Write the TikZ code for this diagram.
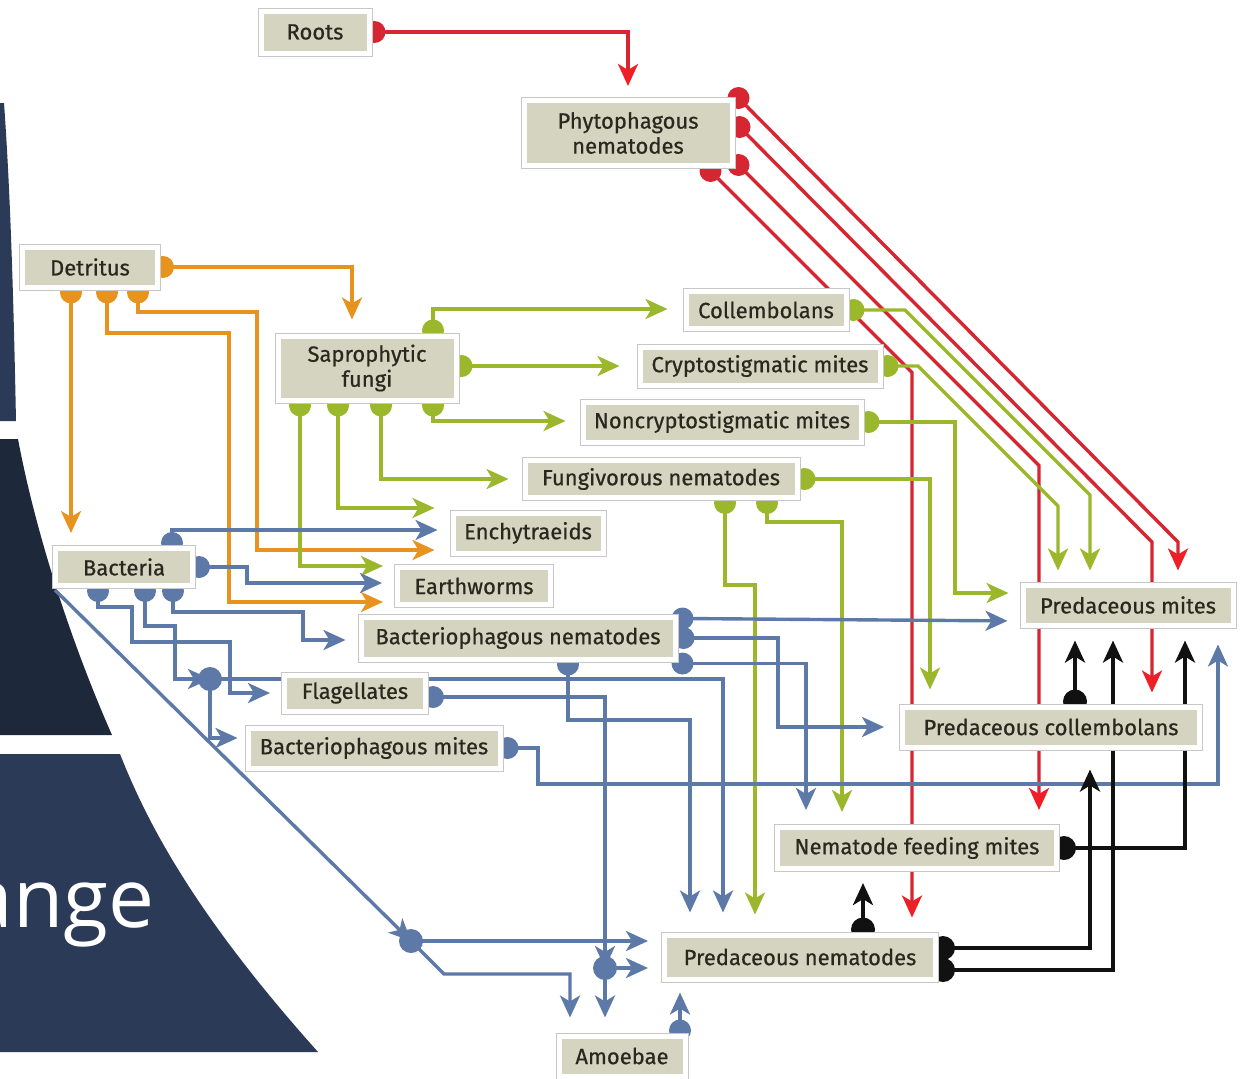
\documentclass[tikz,border=0pt]{standalone}
\usepackage{fontspec}
\usetikzlibrary{arrows.meta}
\newfontfamily\boxfont[FakeBold=0.6]{Fira Sans}
\newfontfamily\slidefont{Open Sans}
\definecolor{navyA}{HTML}{2B3A56}
\definecolor{navyB}{HTML}{1D283B}
\definecolor{boxfill}{HTML}{D5D4C0}
\definecolor{txt}{HTML}{2A281E}
\definecolor{cred}{HTML}{D62631}
\definecolor{credtip}{HTML}{EE1F27}
\definecolor{corange}{HTML}{E8931E}
\definecolor{cgreen}{HTML}{9BB82C}
\definecolor{cblue}{HTML}{5C79A8}
\definecolor{cblack}{HTML}{111111}
\pgfdeclarelayer{bg}
\pgfdeclarelayer{links}
\pgfsetlayers{bg,links,main}
\tikzset{
  box/.style={rectangle, fill=boxfill, draw=white, line width=5pt,
    preaction={draw=black!22, line width=7pt}, inner sep=0pt,
    text=txt, align=center, font=\boxfont\fontsize{22}{25}\selectfont},
  link/.style={line width=3.4pt, -{Stealth[length=22pt,width=20pt,inset=6pt]}},
  lred/.style={link, draw=cred, -{Stealth[length=22pt,width=20pt,inset=6pt,color=credtip]}},
  lorange/.style={link, draw=corange},
  lgreen/.style={link, draw=cgreen},
  lblue/.style={link, draw=cblue},
  lblack/.style={link, line width=4pt, draw=cblack},
}
\begin{document}
\begin{tikzpicture}[x=1pt,y=-1pt]
\useasboundingbox (0,0) rectangle (1243,1079);
% ---------- nodes ----------
\node[box, minimum width=108pt, minimum height=42pt] (roots) at (315,32) {Roots};
\node[box, minimum width=208pt, minimum height=65pt] (phyto) at (628,133) {Phytophagous\\nematodes};
\node[box, minimum width=135pt, minimum height=40pt] (detritus) at (90,267) {Detritus};
\node[box, minimum width=178pt, minimum height=64pt] (sapro) at (367,368) {Saprophytic\\fungi};
\node[box, minimum width=160pt, minimum height=37pt] (collem) at (766,310) {Collembolans};
\node[box, minimum width=240pt, minimum height=38pt] (crypto) at (760,366) {Cryptostigmatic mites};
\node[box, minimum width=278pt, minimum height=40pt] (noncrypto) at (722,422) {Noncryptostigmatic mites};
\node[box, minimum width=272pt, minimum height=37pt] (fungiv) at (661,479) {Fungivorous nematodes};
\node[box, minimum width=150pt, minimum height=40pt] (enchy) at (528,533) {Enchytraeids};
\node[box, minimum width=137pt, minimum height=37pt] (bact) at (124,567) {Bacteria};
\node[box, minimum width=153pt, minimum height=37pt] (earth) at (474,586) {Earthworms};
\node[box, minimum width=314pt, minimum height=42pt] (bnem) at (518,638) {Bacteriophagous nematodes};
\node[box, minimum width=141pt, minimum height=36pt] (flag) at (355,693) {Flagellates};
\node[box, minimum width=252pt, minimum height=40pt] (bmites) at (374,748) {Bacteriophagous mites};
\node[box, minimum width=210pt, minimum height=40pt] (pmites) at (1128,605) {Predaceous mites};
\node[box, minimum width=297pt, minimum height=40pt] (pcoll) at (1051,727) {Predaceous collembolans};
\node[box, minimum width=279pt, minimum height=41pt] (nfm) at (917,848) {Nematode feeding mites};
\node[box, minimum width=271pt, minimum height=44pt] (pnem) at (800,957) {Predaceous nematodes};
\node[box, minimum width=126pt, minimum height=40pt] (amoeb) at (622,1056) {Amoebae};

% ---------- background slide shapes ----------
\begin{pgfonlayer}{bg}
\fill[white] (0,0) rectangle (1243,1079);
\fill[navyA] (-5,103) -- (4,103) .. controls (11,200) and (14,320) .. (16,421) -- (-5,421) -- cycle;
\fill[navyB] (-5,439) -- (18,439) .. controls (35,530) and (70,640) .. (112,735) -- (-5,735) -- cycle;
\fill[navyA] (-5,754) -- (120,754) .. controls (150,830) and (200,920) .. (318,1052) -- (-5,1052) -- cycle;
\node[anchor=base east, inner sep=0pt, text=white, font=\slidefont\fontsize{82}{96}\selectfont] (slidetext) at (155,927) {ange};
\end{pgfonlayer}

% ---------- connectors ----------
\begin{pgfonlayer}{links}
% red
\coordinate (r0) at ([xshift=3pt]roots.east);
\coordinate (r1) at ([xshift=4pt]phyto.north east);
\coordinate (r2) at ([xshift=5pt,yshift=6pt]phyto.east);
\coordinate (r3) at ([xshift=4pt,yshift=3pt]phyto.south east);
\coordinate (r4) at ([xshift=-24pt,yshift=-3pt]phyto.south east);
\draw[lred, shorten >=12pt] (r0) -| (phyto.north);
\draw[lred, shorten >=12pt] (r1) -- (1178,542) -- ([xshift=50pt]pmites.north);
\draw[lred, shorten >=12pt] (r2) -- (1152,542) -- ([xshift=101pt]pcoll.north);
\draw[lred, shorten >=15pt] (r3) -- (1039,465.5) -- ([xshift=122pt]nfm.north);
\draw[lred, shorten >=15pt] (r4) -- (912,372.5) -- ([xshift=112pt]pnem.north);
\foreach \p in {r0,r1,r2,r3,r4} \fill[cred] (\p) circle[radius=11];
% orange
\coordinate (o0) at ([xshift=3pt]detritus.east);
\coordinate (o1) at ([xshift=-19pt,yshift=-3pt]detritus.south);
\coordinate (o2) at ([xshift=48pt,yshift=-3pt]detritus.south);
\coordinate (o3) at ([xshift=17pt,yshift=-3pt]detritus.south);
\draw[lorange, shorten >=14pt] (o0) -| ([xshift=-15pt]sapro.north);
\draw[lorange, shorten >=13pt] (o1) -- ([xshift=-53pt]bact.north);
\draw[lorange, shorten >=16pt] (o2) |- (257,312) |- ([yshift=-17pt]enchy.west);
\draw[lorange, shorten >=12pt] (o3) |- (229,333) |- ([yshift=-16pt]earth.west);
\foreach \p in {o0,o1,o2,o3} \fill[corange] (\p) circle[radius=11];
% green
\coordinate (g1) at ([xshift=66pt,yshift=3pt]sapro.north);
\coordinate (g2) at ([xshift=3pt,yshift=2pt]sapro.east);
\coordinate (g3) at ([xshift=66pt,yshift=-3pt]sapro.south);
\coordinate (g4) at ([xshift=14pt,yshift=-3pt]sapro.south);
\coordinate (g5) at ([xshift=-29pt,yshift=-3pt]sapro.south);
\coordinate (g6) at ([xshift=-67pt,yshift=-3pt]sapro.south);
\coordinate (g7) at ([xshift=5pt]collem.east);
\coordinate (g8) at ([xshift=5pt]crypto.east);
\coordinate (g9) at ([xshift=5pt]noncrypto.east);
\coordinate (g10) at ([xshift=5pt]fungiv.east);
\coordinate (g11) at ([xshift=64pt,yshift=-3pt]fungiv.south);
\coordinate (g12) at ([xshift=106pt,yshift=-3pt]fungiv.south);
\draw[lgreen, shorten >=16pt] (g1) |- ([yshift=1pt]collem.west);
\draw[lgreen, shorten >=18pt] (g2) -- (crypto.west);
\draw[lgreen, shorten >=15pt] (g3) |- ([yshift=1pt]noncrypto.west);
\draw[lgreen, shorten >=14pt] (g4) |- (fungiv.west);
\draw[lgreen, shorten >=16pt] (g5) |- ([yshift=25pt]enchy.west);
\draw[lgreen, shorten >=12pt] (g6) |- ([yshift=20pt]earth.west);
\draw[lgreen, shorten >=12pt] (g7) -- (905,310) -- (1090,495) -- ([xshift=-38pt]pmites.north);
\draw[lgreen, shorten >=12pt] (g8) -- (918,366) -- (1058,506) -- ([xshift=-70pt]pmites.north);
\draw[lgreen, shorten >=12pt] (g9) -- (955,422) |- ([yshift=12pt]pmites.west);
\draw[lgreen, shorten >=15pt] (g10) -| ([xshift=-121pt]pcoll.north);
\draw[lgreen, shorten >=18pt] (g11) |- (755,585) -- ([xshift=-45pt]pnem.north);
\draw[lgreen, shorten >=13pt] (g12) |- (842,522) -- ([xshift=-75pt]nfm.north);
\foreach \p in {g1,g2,g3,g4,g5,g6,g7,g8,g9,g10,g11,g12} \fill[cgreen] (\p) circle[radius=11];
% blue
\coordinate (b1) at ([xshift=48pt,yshift=3pt]bact.north);
\coordinate (b2) at ([xshift=4pt]bact.east);
\coordinate (b3) at ([xshift=49pt,yshift=-3pt]bact.south);
\coordinate (b4) at ([xshift=-26pt,yshift=-3pt]bact.south);
\coordinate (b5) at ([xshift=21pt,yshift=-3pt]bact.south);
\coordinate (b6) at ([xshift=2pt,yshift=-2pt]bact.south west);
\coordinate (b7) at ([xshift=5pt,yshift=-4pt]flag.east);
\coordinate (b8) at ([xshift=50pt,yshift=-3pt]bnem.south);
\coordinate (b9) at ([xshift=5pt,yshift=-4pt]bnem.north east);
\coordinate (b10) at ([xshift=6pt]bnem.east);
\coordinate (b11) at ([xshift=5pt,yshift=-2pt]bnem.south east);
\coordinate (b12) at ([xshift=5pt]bmites.east);
\coordinate (b13) at ([xshift=58pt,yshift=3pt]amoeb.north);
\coordinate (j1) at (210,679);
\coordinate (j2) at (411,941);
\coordinate (j3) at (605,968);
\draw[lblue, shorten >=13pt] (b1) |- ([yshift=3pt]enchy.west);
\draw[lblue, shorten >=13pt] (b2) -- (247,567) |- ([yshift=3pt]earth.west);
\draw[lblue, shorten >=13pt] (b3) |- (303,612) |- ([yshift=-2pt]bnem.west);
\draw[lblue, shorten >=12pt] (b4) |- (132,607) |- (230,642) |- (flag.west);
\draw[lblue] (b5) |- (175,626) |- (j1);
\draw[lblue, shorten >=20pt] (j1) -- (723,679) -- ([xshift=-77pt]pnem.north);
\draw[lblue, shorten >=8pt] (j1) |- ([yshift=10pt]bmites.west);
\draw[lblue] (b6) -- (j2);
\draw[lblue, shorten >=14pt] (j2) -- ([yshift=16pt]pnem.west);
\draw[lblue, shorten >=16pt] (j2) -- (444,974) -- (570,974) -- ([xshift=-52pt]amoeb.north);
\draw[lblue] (b7) -| (j3);
\draw[lblue, shorten >=14pt] (j3) -- ([yshift=-11pt]pnem.west);
\draw[lblue, shorten >=16pt] (j3) -- ([xshift=-17pt]amoeb.north);
\draw[lblue, shorten >=20pt] (b8) |- (690,720) -- ([xshift=-110pt]pnem.north);
\draw[lblue, shorten >=13pt] (b9) -- ([yshift=-16pt]pmites.west);
\draw[lblue, shorten >=16pt] (b10) -- (778,638) |- (pcoll.west);
\draw[lblue, shorten >=15pt] (b11) -| ([xshift=-111pt]nfm.north);
\draw[lblue, shorten >=17pt] (b12) -- (538,748) |- (1218,784) -- ([xshift=90pt]pmites.south);
\draw[lblue, shorten >=11pt] (b13) -- ([xshift=-120pt]pnem.south);
\foreach \p in {b1,b2,b3,b4,b5,b7,b8,b9,b10,b11,b12,b13} \fill[cblue] (\p) circle[radius=11];
\foreach \p in {j1,j2,j3} \fill[cblue] (\p) circle[radius=12];
% black
\coordinate (k1) at ([xshift=63pt,yshift=3pt]pnem.north);
\coordinate (k2) at ([xshift=5pt,yshift=9pt]pnem.east);
\coordinate (k3) at ([xshift=5pt,yshift=-13pt]pnem.east);
\coordinate (k4) at ([xshift=5pt]nfm.east);
\coordinate (k5) at ([xshift=24pt,yshift=3pt]pcoll.north);
\draw[lblack, shorten >=12pt] (k1) -- ([xshift=-54pt]nfm.south);
\draw[lblack, shorten >=20pt] (k2) -| ([xshift=39pt]pcoll.south);
\draw[lblack, shorten >=13pt] (k3) -| ([xshift=-15pt]pmites.south);
\draw[lblack, shorten >=13pt] (k4) -| ([xshift=57pt]pmites.south);
\draw[lblack, shorten >=13pt] (k5) -- ([xshift=-53pt]pmites.south);
\foreach \p in {k1,k2,k3,k4,k5} \fill[cblack] (\p) circle[radius=12];
\end{pgfonlayer}
\end{tikzpicture}
\end{document}
